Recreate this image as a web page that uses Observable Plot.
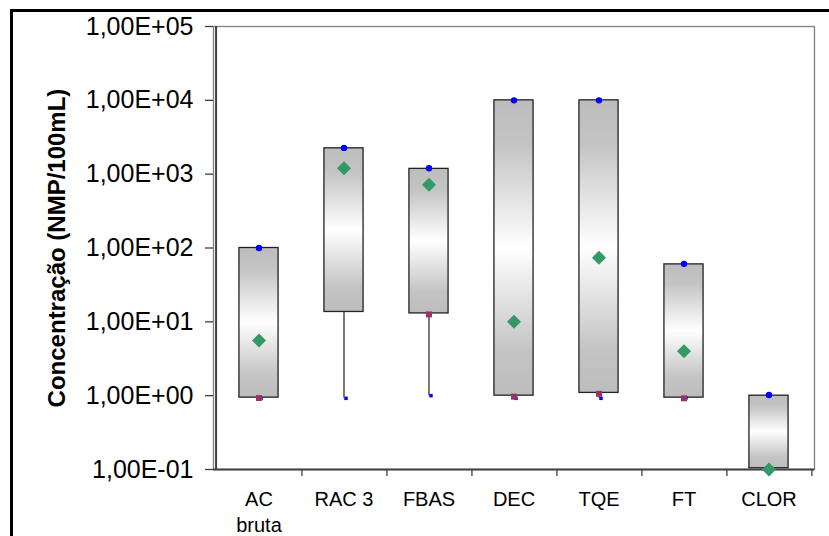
<!DOCTYPE html>
<html>
<head>
<meta charset="utf-8">
<script src="https://cdn.jsdelivr.net/npm/d3@7"></script>
<script src="https://cdn.jsdelivr.net/npm/@observablehq/plot@0.6"></script>
<style>
  html, body { margin: 0; padding: 0; background: #fff; overflow: hidden; }
  #wrap { position: relative; width: 829px; height: 536px; }
  #border { position: absolute; left: 10px; top: 9px; width: 900px; height: 700px; border: 3px solid #000; box-sizing: border-box; pointer-events: none; }
  #chart { position: absolute; left: 0; top: 0; }
</style>
</head>
<body>
<div id="wrap"><div id="chart"></div><div id="border"></div></div>
<script>
const categories = ["AC bruta", "RAC 3", "FBAS", "DEC", "TQE", "FT", "CLOR"];
const xTickLabels = ["AC\nbruta", "RAC 3", "FBAS", "DEC", "TQE", "FT", "CLOR"];
const boxLow  = [0.94, 13.6, 13, 1.0, 1.09, 0.94, 0.104];
const boxHigh = [100, 2240, 1180, 10000, 10000, 60, 1.0];
const maxVal  = [100, 2270, 1200, 10000, 10000, 61, 1.02];
const meanVal = [5.6, 1200, 720, 10, 74, 4.0, 0.1];
const q1Val   = [0.93, null, 12.6, 0.97, 1.06, 0.92, null];
const minVal  = [0.92, 0.92, 1.0, 0.92, 0.92, 0.93, null];
const yTicks = [0.1, 1, 10, 100, 1000, 10000, 100000];
const yTickLabels = ["1,00E-01", "1,00E+00", "1,00E+01", "1,00E+02", "1,00E+03", "1,00E+04", "1,00E+05"];
const yTitle = "Concentração (NMP/100mL)";

const rows = categories.map((c, i) => ({
  cat: c, low: boxLow[i], high: boxHigh[i], max: maxVal[i], mean: meanVal[i], q1: q1Val[i], min: minVal[i]
}));

const W = 829, H = 536, ML = 213, MR = 15, MT = 26, MB = 67;
const bw = (W - ML - MR) / categories.length;
const inset = (bw - 40) / 2;

const svg = Plot.plot({
  width: W, height: H,
  marginLeft: ML, marginRight: MR, marginTop: MT, marginBottom: MB,
  style: { fontFamily: "'Liberation Sans', Arial, sans-serif", background: "transparent", color: "#000" },
  x: { type: "band", domain: categories, padding: 0 },
  y: { type: "log", domain: [0.1, 100000] },
  marks: [
    Plot.frame({ stroke: "#808080", strokeWidth: 1.3 }),
    // whiskers
    Plot.ruleX(rows.filter(d => d.min != null), { x: "cat", y1: "min", y2: "low", stroke: "#333", strokeWidth: 1.3 }),
    // boxes
    Plot.barY(rows, { x: "cat", y1: "low", y2: "high", insetLeft: inset, insetRight: inset, fill: "url(#boxgrad)", stroke: "#222", strokeWidth: 1.3 }),
    // axis lines
    Plot.ruleY([0.1], { stroke: "#404040", strokeWidth: 2 }),
    Plot.ruleX([categories[0]], { dx: -bw / 2, stroke: "#404040", strokeWidth: 2 }),
    // y axis
    Plot.axisY({
      ticks: yTicks, tickSize: 8, tickPadding: 12, fontSize: 25, label: null, stroke: "#404040", strokeWidth: 1.3,
      tickFormat: d => yTickLabels[yTicks.findIndex(t => Math.abs(t - d) < t * 1e-6)]
    }),
    // x axis labels
    Plot.axisX({
      tickSize: 0, tickPadding: 18, fontSize: 20, lineHeight: 1.3, label: null,
      tickFormat: d => xTickLabels[categories.indexOf(d)]
    }),
    // x axis ticks at category boundaries
    Plot.axisX({ tickSize: 7, tickFormat: () => "", label: null, dx: bw / 2, stroke: "#404040", strokeWidth: 1.3 }),
    // y title
    Plot.text([yTitle], { text: d => d, frameAnchor: "left", textAnchor: "middle", lineAnchor: "middle", dx: -156, rotate: -90, fontWeight: "bold", fontSize: 24 }),
    // markers
    Plot.dot(rows.filter(d => d.min != null), { x: "cat", y: "min", symbol: "square2", r: 2.2, dx: 2, fill: "#0000ff", stroke: null }),
    Plot.dot(rows.filter(d => d.q1 != null), { x: "cat", y: "q1", symbol: "square2", r: 3.8, fill: "#993366", stroke: null }),
    Plot.dot(rows, { x: "cat", y: "max", symbol: "circle", r: 3.2, fill: "#0000ff", stroke: null }),
    Plot.dot(rows, { x: "cat", y: "mean", symbol: "diamond2", r: 6.3, fill: "#339966", stroke: null })
  ]
});

const defs = d3.select(svg).insert("defs", ":first-child");
const grad = defs.append("linearGradient").attr("id", "boxgrad").attr("x1", 0).attr("y1", 0).attr("x2", 0).attr("y2", 1);
grad.append("stop").attr("offset", "0%").attr("stop-color", "#bdbdbd");
grad.append("stop").attr("offset", "15%").attr("stop-color", "#c4c4c4");
grad.append("stop").attr("offset", "50%").attr("stop-color", "#ffffff");
grad.append("stop").attr("offset", "85%").attr("stop-color", "#c4c4c4");
grad.append("stop").attr("offset", "100%").attr("stop-color", "#bdbdbd");

document.getElementById("chart").appendChild(svg);
</script>
</body>
</html>
